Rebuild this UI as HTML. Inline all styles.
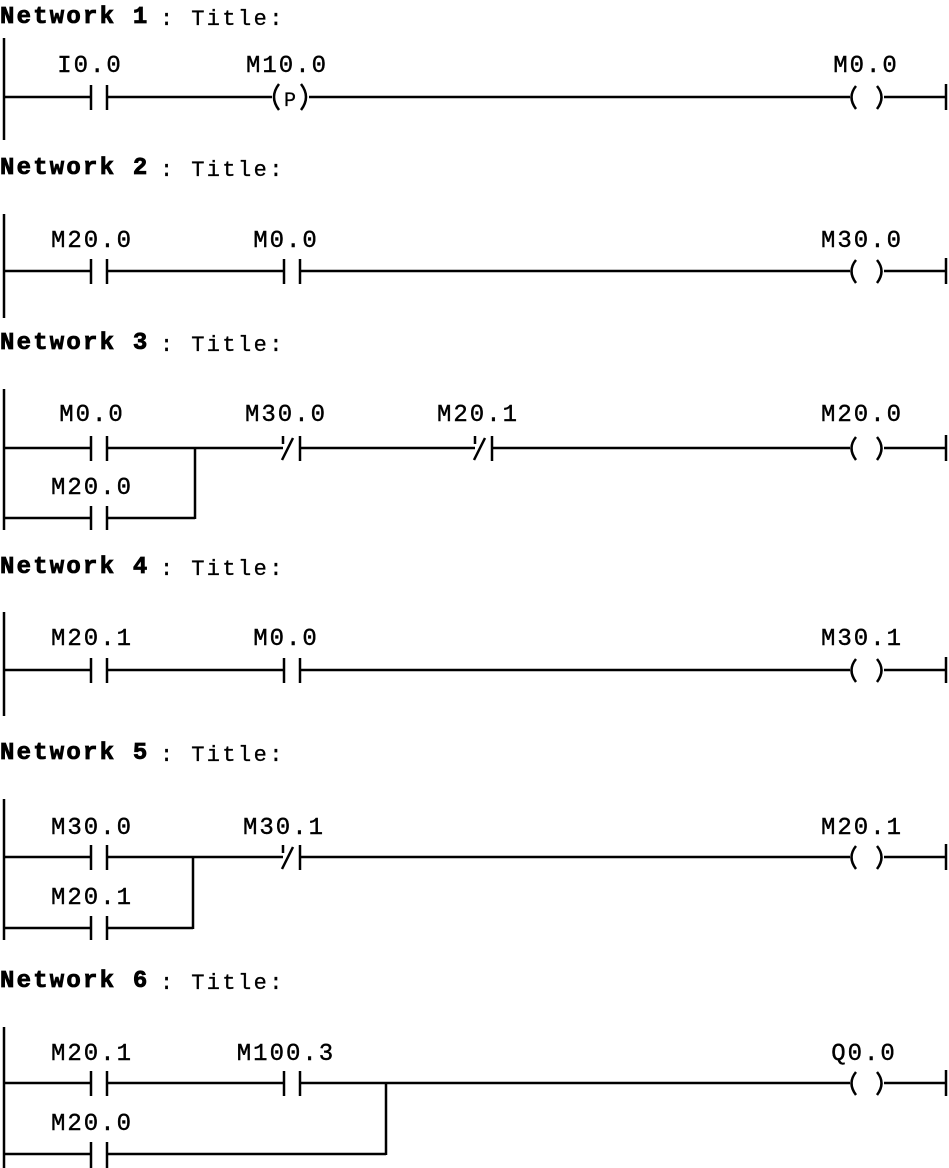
<!DOCTYPE html>
<html><head><meta charset="utf-8"><style>
html,body{margin:0;padding:0;background:#fff;}
svg{display:block;}
.t{font-family:"Liberation Mono",monospace;font-size:22px;fill:#000;letter-spacing:2.4px;stroke:#000;stroke-width:0.3px;}
.b{font-weight:bold;font-family:"Liberation Mono",monospace;font-size:24px;letter-spacing:2.2px;stroke:#000;stroke-width:0.8px;}
.l{font-family:"Liberation Mono",monospace;font-size:24px;fill:#000;letter-spacing:2px;text-anchor:middle;stroke:#000;stroke-width:0.4px;}
line,path{stroke:#000;stroke-width:2.5;fill:none;}
</style></head><body>
<svg width="949" height="1168" viewBox="0 0 949 1168" xmlns="http://www.w3.org/2000/svg">

<!-- Network 1 -->
<text x="0" y="23" class="b">Network 1</text><text x="160" y="25" class="t">: Title:</text>
<line x1="4" y1="38" x2="4" y2="140"/>
<text x="90" y="72" class="l">I0.0</text>
<text x="287" y="72" class="l">M10.0</text>
<text x="866" y="72" class="l">M0.0</text>
<line x1="4" y1="97" x2="91" y2="97"/>
<line x1="91" y1="85" x2="91" y2="110"/><line x1="107" y1="85" x2="107" y2="110"/>
<line x1="107" y1="97" x2="272" y2="97"/>
<path d="M279 84 Q269 97 279 110"/><path d="M301 84 Q311 97 301 110"/>
<text x="290" y="106" class="t" text-anchor="middle" style="font-size:20px;letter-spacing:0">P</text>
<line x1="309" y1="97" x2="850" y2="97"/>
<path d="M856 86 Q847 97 856 109"/><path d="M877 86 Q886 97 877 109"/>
<line x1="884" y1="97" x2="946" y2="97"/><line x1="946" y1="84" x2="946" y2="110"/>

<!-- Network 2 -->
<text x="0" y="174" class="b">Network 2</text><text x="160" y="176" class="t">: Title:</text>
<line x1="4" y1="214" x2="4" y2="318"/>
<text x="92" y="247" class="l">M20.0</text>
<text x="286" y="247" class="l">M0.0</text>
<text x="862" y="247" class="l">M30.0</text>
<line x1="4" y1="271" x2="91" y2="271"/>
<line x1="91" y1="259" x2="91" y2="284"/><line x1="107" y1="259" x2="107" y2="284"/>
<line x1="107" y1="271" x2="284" y2="271"/>
<line x1="284" y1="259" x2="284" y2="284"/><line x1="300" y1="259" x2="300" y2="284"/>
<line x1="300" y1="271" x2="850" y2="271"/>
<path d="M856 260 Q847 271 856 283"/><path d="M877 260 Q886 271 877 283"/>
<line x1="884" y1="271" x2="946" y2="271"/><line x1="946" y1="258" x2="946" y2="284"/>

<!-- Network 3 -->
<text x="0" y="349" class="b">Network 3</text><text x="160" y="351" class="t">: Title:</text>
<line x1="4" y1="389" x2="4" y2="530"/>
<text x="92" y="421" class="l">M0.0</text>
<text x="286" y="421" class="l">M30.0</text>
<text x="478" y="421" class="l">M20.1</text>
<text x="862" y="421" class="l">M20.0</text>
<text x="92" y="494" class="l">M20.0</text>
<line x1="4" y1="448" x2="91" y2="448"/>
<line x1="91" y1="436" x2="91" y2="461"/><line x1="107" y1="436" x2="107" y2="461"/>
<line x1="107" y1="448" x2="283" y2="448"/>
<line x1="283" y1="436" x2="283" y2="444"/><line x1="282" y1="460" x2="293" y2="438"/><line x1="300" y1="436" x2="300" y2="461"/>
<line x1="300" y1="448" x2="475" y2="448"/>
<line x1="475" y1="436" x2="475" y2="444"/><line x1="474" y1="460" x2="485" y2="438"/><line x1="492" y1="436" x2="492" y2="461"/>
<line x1="492" y1="448" x2="850" y2="448"/>
<path d="M856 437 Q847 448 856 460"/><path d="M877 437 Q886 448 877 460"/>
<line x1="884" y1="448" x2="946" y2="448"/><line x1="946" y1="435" x2="946" y2="461"/>
<line x1="4" y1="518" x2="91" y2="518"/>
<line x1="91" y1="506" x2="91" y2="530"/><line x1="107" y1="506" x2="107" y2="530"/>
<line x1="107" y1="518" x2="195" y2="518"/><line x1="195" y1="448" x2="195" y2="519"/>

<!-- Network 4 -->
<text x="0" y="573" class="b">Network 4</text><text x="160" y="575" class="t">: Title:</text>
<line x1="4" y1="612" x2="4" y2="716"/>
<text x="92" y="645" class="l">M20.1</text>
<text x="286" y="645" class="l">M0.0</text>
<text x="862" y="645" class="l">M30.1</text>
<line x1="4" y1="670" x2="91" y2="670"/>
<line x1="91" y1="658" x2="91" y2="683"/><line x1="107" y1="658" x2="107" y2="683"/>
<line x1="107" y1="670" x2="284" y2="670"/>
<line x1="284" y1="658" x2="284" y2="683"/><line x1="300" y1="658" x2="300" y2="683"/>
<line x1="300" y1="670" x2="850" y2="670"/>
<path d="M856 659 Q847 670 856 682"/><path d="M877 659 Q886 670 877 682"/>
<line x1="884" y1="670" x2="946" y2="670"/><line x1="946" y1="657" x2="946" y2="683"/>

<!-- Network 5 -->
<text x="0" y="759" class="b">Network 5</text><text x="160" y="761" class="t">: Title:</text>
<line x1="4" y1="799" x2="4" y2="940"/>
<text x="92" y="834" class="l">M30.0</text>
<text x="284" y="834" class="l">M30.1</text>
<text x="862" y="834" class="l">M20.1</text>
<text x="92" y="904" class="l">M20.1</text>
<line x1="4" y1="857" x2="91" y2="857"/>
<line x1="91" y1="845" x2="91" y2="870"/><line x1="107" y1="845" x2="107" y2="870"/>
<line x1="107" y1="857" x2="283" y2="857"/>
<line x1="283" y1="845" x2="283" y2="853"/><line x1="282" y1="869" x2="293" y2="847"/><line x1="300" y1="845" x2="300" y2="870"/>
<line x1="300" y1="857" x2="850" y2="857"/>
<path d="M856 846 Q847 857 856 869"/><path d="M877 846 Q886 857 877 869"/>
<line x1="884" y1="857" x2="946" y2="857"/><line x1="946" y1="844" x2="946" y2="870"/>
<line x1="4" y1="928" x2="91" y2="928"/>
<line x1="91" y1="916" x2="91" y2="940"/><line x1="107" y1="916" x2="107" y2="940"/>
<line x1="107" y1="928" x2="193" y2="928"/><line x1="193" y1="857" x2="193" y2="929"/>

<!-- Network 6 -->
<text x="0" y="987" class="b">Network 6</text><text x="160" y="989" class="t">: Title:</text>
<line x1="4" y1="1027" x2="4" y2="1168"/>
<text x="92" y="1060" class="l">M20.1</text>
<text x="286" y="1060" class="l">M100.3</text>
<text x="864" y="1060" class="l">Q0.0</text>
<text x="92" y="1130" class="l">M20.0</text>
<line x1="4" y1="1083" x2="91" y2="1083"/>
<line x1="91" y1="1071" x2="91" y2="1096"/><line x1="107" y1="1071" x2="107" y2="1096"/>
<line x1="107" y1="1083" x2="284" y2="1083"/>
<line x1="284" y1="1071" x2="284" y2="1096"/><line x1="300" y1="1071" x2="300" y2="1096"/>
<line x1="300" y1="1083" x2="850" y2="1083"/>
<path d="M856 1072 Q847 1083 856 1095"/><path d="M877 1072 Q886 1083 877 1095"/>
<line x1="884" y1="1083" x2="946" y2="1083"/><line x1="946" y1="1070" x2="946" y2="1096"/>
<line x1="4" y1="1154" x2="91" y2="1154"/>
<line x1="91" y1="1142" x2="91" y2="1168"/><line x1="107" y1="1142" x2="107" y2="1168"/>
<line x1="107" y1="1154" x2="386" y2="1154"/><line x1="386" y1="1083" x2="386" y2="1155"/>
</svg>
</body></html>
